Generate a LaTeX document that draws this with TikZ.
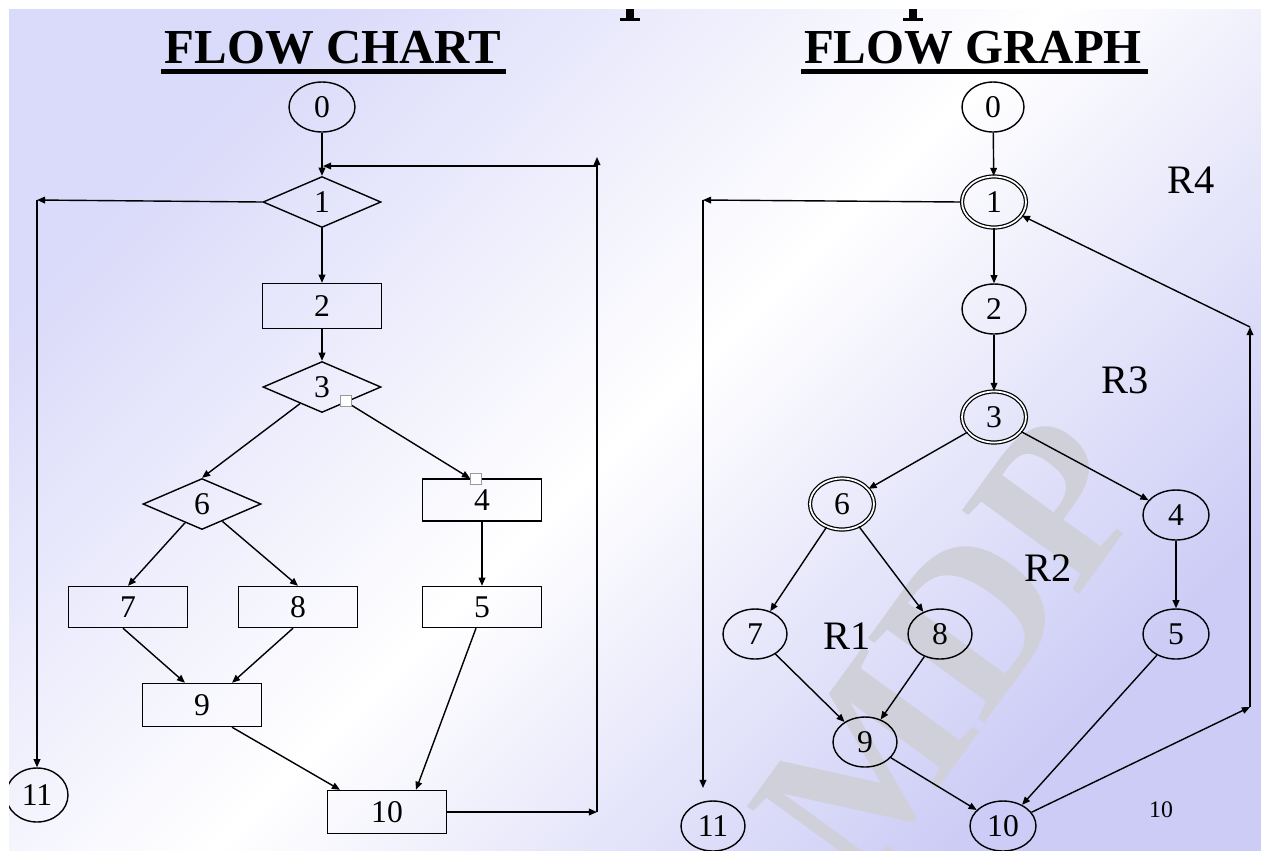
\documentclass[tikz,border=0pt]{standalone}
\usepackage{fontspec}
\setmainfont{Liberation Serif}
\usetikzlibrary{shapes.geometric,arrows.meta,calc}
\definecolor{lavA}{RGB}{218,218,250}
\definecolor{lavB}{RGB}{204,204,246}
\definecolor{wm}{RGB}{208,208,218}
\pgfdeclarehorizontalshading{bgshade}{100bp}{color(0bp)=(lavA); color(25bp)=(lavA); color(50bp)=(white); color(75bp)=(lavB); color(100bp)=(lavB)}
\tikzset{
  lbl/.style={font=\fontsize{18}{20}\selectfont},
  dia/.style={diamond, draw, inner sep=0pt, minimum width=2.36cm, minimum height=1.02cm, lbl},
  box/.style={rectangle, draw, inner sep=0pt, minimum width=2.38cm, minimum height=0.86cm, lbl},
  oval/.style={ellipse, draw, inner sep=0pt, minimum width=1.28cm, minimum height=1.0cm, lbl},
  dbl/.style={ellipse, draw, double, double distance=1.0pt, line width=0.7pt, inner sep=0pt, minimum width=1.28cm, minimum height=1.02cm, lbl},
  arr/.style={-{Triangle[length=4.6pt,width=3.8pt]}},
  rlab/.style={font=\fontsize{23}{26}\selectfont},
  ttl/.style={font=\bfseries\fontsize{27.8}{30}\selectfont, anchor=base, inner sep=0pt},
  handle/.style={draw=black!40, fill=white, line width=0.5pt, minimum size=0.21cm, inner sep=0pt, rectangle}
}
\begin{document}
\begin{tikzpicture}[x=0.02cm,y=-0.02cm,line width=0.8pt]
\useasboundingbox (0,0) rectangle (1261,850);
\fill[white] (0,0) rectangle (1261,850);
\shade[shading=bgshade, shading angle=-45] (9,9) rectangle (1261,850);
% watermark
\node[rotate=54, text=wm, font=\bfseries\fontsize{125}{125}\selectfont, inner sep=0pt] (wmk) at (950,650) {MDP};
% titles
\node[ttl] (t1) at (333,63) {FLOW CHART};
\node[ttl] (t2) at (973,63) {FLOW GRAPH};
\fill (161,69) rectangle (506,74);
\fill (801,69) rectangle (1148,74);
% ---------- flow chart ----------
\node[oval, minimum width=1.32cm] (a0) at (322,107) {0};
\node[dia] (a1) at (322,202) {1};
\node[box, minimum height=0.9cm] (a2) at (322,306) {2};
\node[dia] (a3) at (322,387) {3};
\node[dia] (a6) at (202,504) {6};
\node[box, minimum height=0.84cm] (a4) at (482,500) {4};
\node[box, minimum height=0.82cm] (a5) at (482,607) {5};
\node[box, minimum height=0.82cm] (a7) at (128,607) {7};
\node[box, minimum height=0.82cm] (a8) at (298,607) {8};
\node[box] (a9) at (202,705) {9};
\node[box] (a10) at (387,812) {10};
\node[oval, minimum width=1.24cm, minimum height=1.08cm] (a11) at (37,795) {11};
\coordinate (cL) at (37,200);
\draw[arr] (a1.west) -- (cL);
\draw[arr] (cL) -- (a11.north);
\draw[arr] (a0) -- (a1.north);
\draw[arr] (a1) -- (a2);
\draw[arr] (a2) -- (a3.north);
\draw[arr] (a3) -- (a6.north);
\draw[arr] (a3) -- ($(a4.north)+(-12,0)$);
\draw[arr] (a4) -- (a5);
\draw[arr] (a6) -- (a7.north);
\draw[arr] (a6) -- (a8.north);
\draw[arr] ($(a7.south)+(-5,0)$) -- ($(a9.north)+(-17,0)$);
\draw[arr] ($(a8.south)+(-5,0)$) -- ($(a9.north)+(30,0)$);
\draw[arr] ($(a9.south)+(30,0)$) -- ($(a10.north)+(-47,0)$);
\draw[arr] ($(a5.south)+(-6,0)$) -- ($(a10.north)+(29,0)$);
\coordinate (cR1) at (597,812);
\coordinate (cR2) at (597,157);
\coordinate (cR3) at (597,166);
\coordinate (cR4) at (323,166);
\draw[arr] (a10.east) -- (cR1);
\draw[arr] (cR1) -- (cR2);
\draw[arr] (cR3) -- (cR4);
\node[handle] (h1) at (346,401) {};
\node[handle] (h2) at (476,479) {};
% ---------- flow graph ----------
\node[oval, minimum width=1.24cm] (g0) at (993,107) {0};
\node[dbl] (g1) at (994,202) {1};
\node[oval] (g2) at (994,309) {2};
\node[dbl] (g3) at (994,417) {3};
\node[dbl] (g6) at (842,504) {6};
\node[oval, minimum width=1.32cm] (g4) at (1176,515) {4};
\node[oval, minimum width=1.32cm] (g5) at (1176,634) {5};
\node[oval] (g7) at (755,634) {7};
\node[oval] (g8) at (940,634) {8};
\node[oval] (g9) at (865,742) {9};
\node[oval, minimum width=1.32cm] (g10) at (1003,826) {10};
\node[oval] (g11) at (713,826) {11};
\draw[arr] (g0) -- (g1);
\draw[arr] (g1) -- (g2);
\draw[arr] (g2) -- (g3);
\draw[arr] (g3) -- (g6);
\draw[arr] (g3) -- (g4);
\draw[arr] (g4) -- (g5);
\draw[arr] (g6) -- (g7);
\draw[arr] (g6) -- (g8);
\draw[arr] (g7) -- (g9);
\draw[arr] (g8) -- (g9);
\draw[arr] (g9) -- (g10);
\draw[arr] (g5) -- (g10);
\coordinate (gR1) at (1250,707);
\coordinate (gR2) at (1250,327);
\draw[arr] (g10) -- (gR1);
\draw[arr] (gR1) -- (gR2);
\draw[arr] (gR2) -- (g1);
\coordinate (gL1) at (703,200);
\coordinate (gL2) at (703,788);
\draw[arr] (g1.west) -- (gL1);
\draw[arr] (gL1) -- (gL2);
\node[rlab] (r4) at (1191,180) {R4};
\node[rlab] (r3) at (1125,380) {R3};
\node[rlab] (r2) at (1048,568) {R2};
\node[rlab] (r1) at (847,636) {R1};
\node[font=\fontsize{13.5}{15}\selectfont] (pg) at (1161,810) {10};
% margins and clipped glyphs of the title above
\fill[white] (0,0) rectangle (1261,9);
\fill[white] (0,0) rectangle (9,850);
\fill (626,9) rectangle (634,19);
\fill (620,18) rectangle (640,21);
\fill (909,9) rectangle (917,19);
\fill (903,18) rectangle (923,21);
\end{tikzpicture}
\end{document}
